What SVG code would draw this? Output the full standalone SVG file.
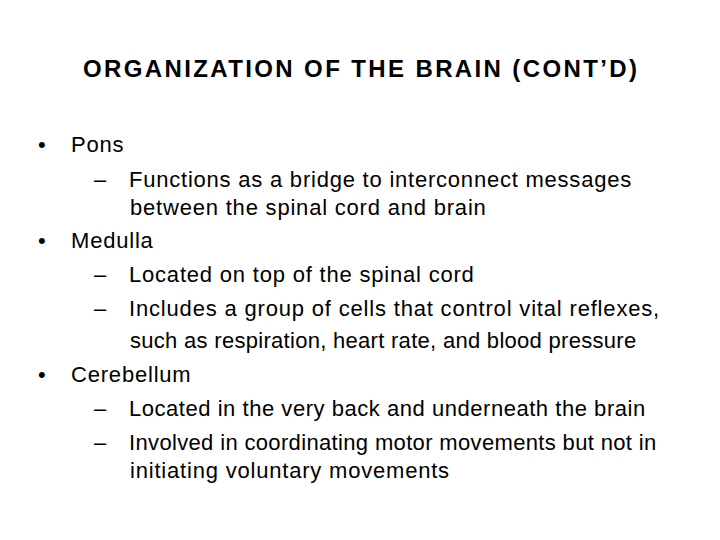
<svg xmlns="http://www.w3.org/2000/svg" width="720" height="540" viewBox="0 0 720 540">
<style>
text{font-family:"Liberation Sans",Arial,sans-serif;font-size:22px;letter-spacing:0.8px;fill:#000}
.t{font-weight:bold;font-size:24px;letter-spacing:0}
</style>
<rect width="720" height="540" fill="#fff"/>
<text class="t" x="83" y="77" textLength="554" lengthAdjust="spacing">ORGANIZATION OF THE BRAIN (CONT’D)</text>
<g>
<text x="38" y="152">•</text><text x="71" y="152">Pons</text>
<text x="94" y="187">–</text><text x="129" y="187" textLength="503" lengthAdjust="spacing">Functions as a bridge to interconnect messages</text>
<text x="130" y="215">between the spinal cord and brain</text>
<text x="38" y="248">•</text><text x="71" y="248">Medulla</text>
<text x="94" y="282">–</text><text x="129" y="282">Located on top of the spinal cord</text>
<text x="94" y="316">–</text><text x="129" y="316" textLength="531" lengthAdjust="spacing">Includes a group of cells that control vital reflexes,</text>
<text x="130" y="348" textLength="507" lengthAdjust="spacing">such as respiration, heart rate, and blood pressure</text>
<text x="38" y="382">•</text><text x="71" y="382">Cerebellum</text>
<text x="94" y="416">–</text><text x="129" y="416" textLength="517" lengthAdjust="spacing">Located in the very back and underneath the brain</text>
<text x="94" y="450">–</text><text x="129" y="450" textLength="528" lengthAdjust="spacing">Involved in coordinating motor movements but not in</text>
<text x="130" y="478">initiating voluntary movements</text>
</g>
</svg>
